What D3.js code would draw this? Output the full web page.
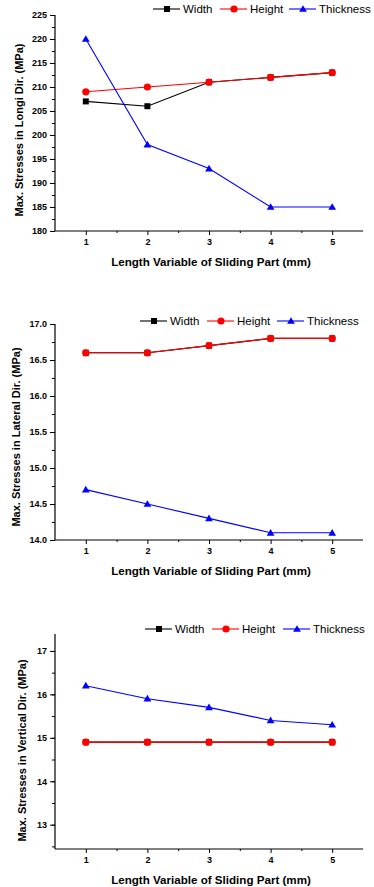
<!DOCTYPE html>
<html>
<head>
<meta charset="utf-8">
<script src="https://cdn.jsdelivr.net/npm/d3@7"></script>
<style>
  body { margin: 0; background: #fff; }
  svg { display: block; font-family: "Liberation Sans", Arial, sans-serif; }
</style>
</head>
<body>
<div id="chart"></div>
<script>
// x categories (length variable, mm)
const lengths = [1, 2, 3, 4, 5];
const seriesNames = ["Width", "Height", "Thickness"];

// panel 1: longitudinal
const longiWidth = [207, 206, 211, 212, 213];
const longiHeight = [209, 210, 211, 212, 213];
const longiThick = [220, 198, 193, 185, 185];
const longiTicks = [180, 185, 190, 195, 200, 205, 210, 215, 220, 225];

// panel 2: lateral
const latWidth = [16.6, 16.6, 16.7, 16.8, 16.8];
const latHeight = [16.6, 16.6, 16.7, 16.8, 16.8];
const latThick = [14.7, 14.5, 14.3, 14.1, 14.1];
const latTicks = [14.0, 14.5, 15.0, 15.5, 16.0, 16.5, 17.0];

// panel 3: vertical
const vertWidth = [14.9, 14.9, 14.9, 14.9, 14.9];
const vertHeight = [14.9, 14.9, 14.9, 14.9, 14.9];
const vertThick = [16.2, 15.9, 15.7, 15.4, 15.3];
const vertTicks = [13, 14, 15, 16, 17];

const COLORS = { Width: "#000000", Height: "#ff0000", Thickness: "#0000ff" };
const W = 374, H = 887;
const X0 = 55, X1 = 363;

const svg = d3.select("#chart").append("svg")
  .attr("width", W).attr("height", H);

const x = d3.scaleLinear().domain([0.5, 5.5]).range([X0, X1]);

// one panel per stress direction
const panels = [
  { title: "Max. Stresses in Longi Dir. (MPa)", top: 15, bottom: 231, domain: [180, 225],
    ticks: longiTicks, step: 5, fmt: d3.format("d"),
    series: [longiWidth, longiHeight, longiThick],
    legendX: [153, 220, 289], legendY: 9, titleX: 19, titleDy: 7 },
  { title: "Max. Stresses in Lateral Dir. (MPa)", top: 324, bottom: 540, domain: [14, 17],
    ticks: latTicks, step: 0.5, fmt: d3.format(".1f"),
    series: [latWidth, latHeight, latThick],
    legendX: [140, 207, 277], legendY: 321, titleX: 16, titleDy: 5 },
  { title: "Max. Stresses in Vertical Dir. (MPa)", top: 634, bottom: 849, domain: [12.44, 17.39],
    ticks: vertTicks, step: 1, fmt: d3.format("d"),
    series: [vertWidth, vertHeight, vertThick],
    legendX: [145, 212, 283], legendY: 629, titleX: 22, titleDy: 9 }
];

function drawMarker(g, name, cx, cy) {
  const c = COLORS[name];
  if (name === "Width") {
    g.append("rect").attr("x", cx - 3).attr("y", cy - 3)
      .attr("width", 6).attr("height", 6).attr("fill", c);
  } else if (name === "Height") {
    g.append("circle").attr("cx", cx).attr("cy", cy).attr("r", 3.6).attr("fill", c);
  } else {
    g.append("path")
      .attr("d", d3.symbol().type(d3.symbolTriangle).size(26)())
      .attr("transform", `translate(${cx},${cy + 0.6})`)
      .attr("fill", c);
  }
}

panels.forEach(p => {
  const y = d3.scaleLinear().domain(p.domain).range([p.bottom, p.top]);
  const g = svg.append("g");

  // minor ticks (half steps)
  const minorY = [];
  for (let v = p.ticks[0] - p.step / 2; v <= p.domain[1] + 1e-9; v += p.step / 2) {
    if (v >= p.domain[0] - 1e-9) minorY.push(+v.toFixed(4));
  }
  const yMinor = d3.axisLeft(y).tickValues(minorY).tickSize(3).tickFormat("");
  g.append("g").attr("transform", `translate(${X0},0)`).call(yMinor)
    .call(a => a.select(".domain").remove())
    .selectAll("line").attr("stroke", "#000").attr("stroke-width", 1);

  const yAxis = d3.axisLeft(y).tickValues(p.ticks).tickSize(5).tickPadding(3).tickFormat(p.fmt);
  const ya = g.append("g").attr("transform", `translate(${X0},0)`).call(yAxis);
  ya.select(".domain").attr("d", `M0,${p.bottom}V${p.top}`).attr("stroke-width", 1.2);
  ya.selectAll("text").attr("font-size", 9).attr("font-weight", "bold")
    .attr("font-family", "Liberation Sans, Arial, sans-serif");

  const xMinor = d3.axisBottom(x).tickValues([1.5, 2.5, 3.5, 4.5]).tickSize(2).tickFormat("");
  g.append("g").attr("transform", `translate(0,${p.bottom})`).call(xMinor)
    .call(a => a.select(".domain").remove());

  const xAxis = d3.axisBottom(x).tickValues(lengths).tickSize(4).tickPadding(4).tickFormat(d3.format("d"));
  const xa = g.append("g").attr("transform", `translate(0,${p.bottom})`).call(xAxis);
  xa.select(".domain").attr("d", `M${X0},0H${X1}`).attr("stroke-width", 1.2);
  xa.selectAll("text").attr("font-size", 9).attr("font-weight", "bold")
    .attr("font-family", "Liberation Sans, Arial, sans-serif");

  // axis titles
  g.append("text")
    .attr("x", (X0 + X1) / 2 + 2).attr("y", p.bottom + 35)
    .attr("text-anchor", "middle").attr("font-size", 11.6).attr("font-weight", "bold")
    .text("Length Variable of Sliding Part (mm)");
  g.append("text")
    .attr("transform", `translate(${p.titleX},${(p.top + p.bottom) / 2 + p.titleDy}) rotate(-90)`)
    .attr("text-anchor", "middle").attr("dy", "0.35em")
    .attr("font-size", 11).attr("font-weight", "bold")
    .text(p.title);

  // series lines + markers
  const line = d3.line().x((d, i) => x(lengths[i])).y(d => y(d));
  seriesNames.forEach((name, si) => {
    const vals = p.series[si];
    g.append("path").datum(vals)
      .attr("d", line).attr("fill", "none")
      .attr("stroke", COLORS[name]).attr("stroke-width", 1.1);
    const mg = g.append("g");
    vals.forEach((v, i) => drawMarker(mg, name, x(lengths[i]), y(v)));
  });

  // legend
  seriesNames.forEach((name, si) => {
    const lx = p.legendX[si], ly = p.legendY;
    const lg = g.append("g");
    lg.append("line").attr("x1", lx).attr("x2", lx + 27).attr("y1", ly).attr("y2", ly)
      .attr("stroke", COLORS[name]).attr("stroke-width", 1.1);
    drawMarker(lg, name, lx + 14, ly);
    lg.append("text").attr("x", lx + 30).attr("y", ly).attr("dy", "0.36em")
      .attr("font-size", 11.5).text(name);
  });
});
</script>
</body>
</html>
